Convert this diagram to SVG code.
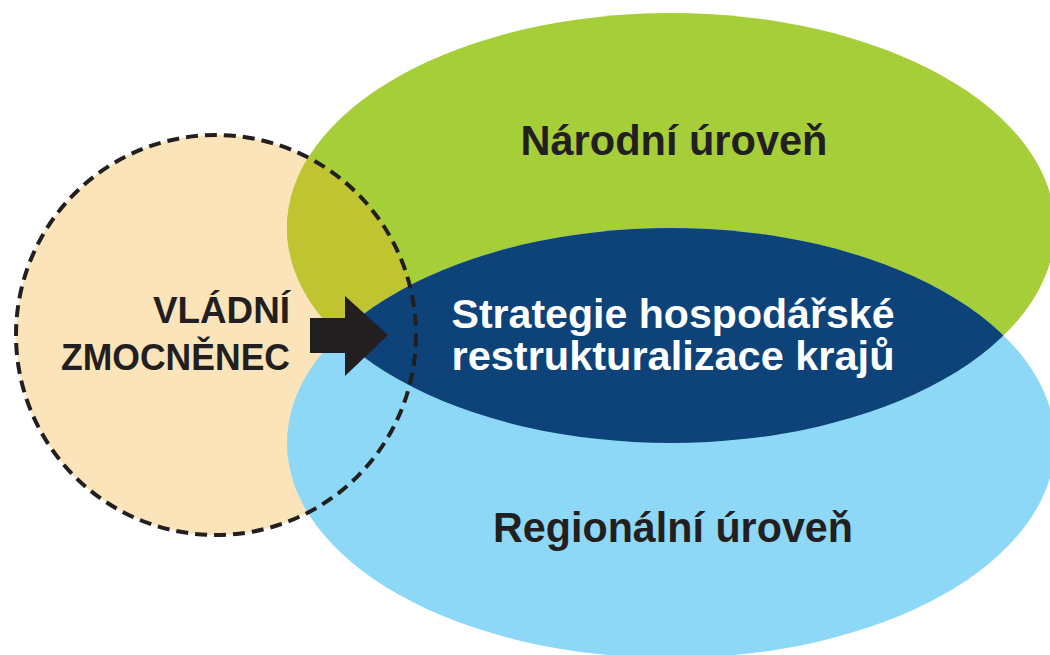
<svg xmlns="http://www.w3.org/2000/svg" width="1050" height="655" viewBox="0 0 1050 655">
<style>
.lbl{font-family:"Liberation Sans",Arial,sans-serif;font-weight:bold;fill:#231F20;}
.wht{font-family:"Liberation Sans",Arial,sans-serif;font-weight:bold;fill:#FFFFFF;}
</style>
<defs>
<clipPath id="clipGreen"><ellipse cx="671" cy="228" rx="384" ry="215"/></clipPath>
<clipPath id="clipBlue"><ellipse cx="671" cy="443" rx="384" ry="215"/></clipPath>
</defs>
<rect width="1050" height="655" fill="#FFFFFF"/>
<g id="circle-fill">
<circle cx="216" cy="335" r="200" fill="#FCE4BA"/>
</g>
<g id="national">
<ellipse cx="671" cy="228" rx="384" ry="215" fill="#A6CE39"/>
<circle cx="216" cy="335" r="200" fill="#BFC430" clip-path="url(#clipGreen)"/>
</g>
<g id="regional">
<ellipse cx="671" cy="443" rx="384" ry="215" fill="#8DD7F7"/>
</g>
<g id="strategy">
<ellipse cx="671" cy="228" rx="384" ry="215" fill="#0E4379" clip-path="url(#clipBlue)"/>
</g>
<g id="commissioner">
<circle cx="216" cy="335" r="200" fill="none" stroke="#231F20" stroke-width="4" stroke-dasharray="12 7"/>
<text class="lbl" x="290" y="323" font-size="37" text-anchor="end" textLength="137" lengthAdjust="spacingAndGlyphs">VLÁDNÍ</text>
<text class="lbl" x="290" y="370" font-size="37" text-anchor="end" textLength="229" lengthAdjust="spacingAndGlyphs">ZMOCNĚNEC</text>
</g>
<g id="connectors">
<polygon points="310,318 345,318 345,296 388,335 345,376 345,353 310,353" fill="#231F20"/>
</g>
<g id="labels">
<text class="lbl" x="674" y="155" font-size="42" text-anchor="middle" textLength="307" lengthAdjust="spacingAndGlyphs">Národní úroveň</text>
<text class="wht" x="673" y="328" font-size="40" text-anchor="middle" textLength="443" lengthAdjust="spacingAndGlyphs">Strategie hospodářské</text>
<text class="wht" x="673" y="370" font-size="40" text-anchor="middle" textLength="443" lengthAdjust="spacingAndGlyphs">restrukturalizace krajů</text>
<text class="lbl" x="673" y="542" font-size="42" text-anchor="middle" textLength="360" lengthAdjust="spacingAndGlyphs">Regionální úroveň</text>
</g>
</svg>
